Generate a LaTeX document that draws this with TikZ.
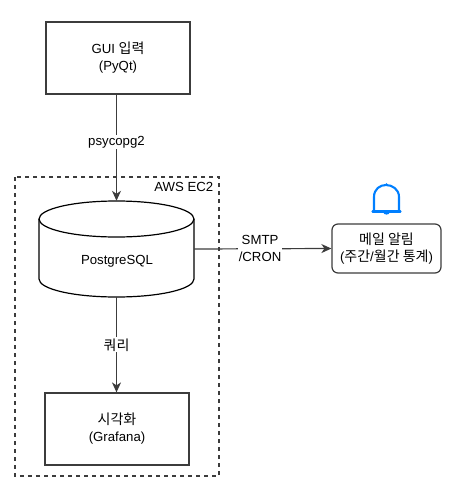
\documentclass[tikz,border=0pt]{standalone}
\usepackage{fontspec}
\setmainfont{Liberation Sans}
\newfontfamily\krfont[Scale=1.06]{Noto Sans CJK KR}
\usetikzlibrary{arrows.meta}
\definecolor{bellblue}{RGB}{0,127,255}
\definecolor{edge}{RGB}{60,60,60}
\tikzset{
  labelfont/.style={font=\fontsize{13.2}{17}\selectfont},
  box/.style={draw=edge,line width=1.2pt,minimum width=#1,inner sep=0pt,align=center,labelfont},
  conn/.style={draw=edge,line width=1.2pt,-{Stealth[length=10pt,width=9pt,inset=3pt]}},
  lbl/.style={fill=white,inner sep=1pt,align=center,labelfont},
  txt/.style={inner sep=0pt,align=center,labelfont}
}
\begin{document}
\begin{tikzpicture}[x=1pt,y=-1pt]
\useasboundingbox (0,0) rectangle (472,487);
\node[box=144pt,minimum height=72pt] (gui) at (118,58) {GUI {\krfont 입력}\\(PyQt)};
\node[box=144pt,minimum height=72pt] (viz) at (117,429) {{\krfont 시각화}\\(Grafana)};
\draw[edge,line width=1.1pt,dash pattern=on 4pt off 4pt] (15,177) rectangle (219,476);
\node[txt,anchor=east] (aws) at (213.5,187) {AWS EC2};
\node[minimum width=155pt,minimum height=96pt,inner sep=0pt] (db) at (116.5,249) {};
\draw[black,line width=1.2pt] (39,219) .. controls (39,209) and (73,201) .. (116.5,201) .. controls (160,201) and (194,209) .. (194,219) -- (194,279) .. controls (194,289) and (160,297) .. (116.5,297) .. controls (73,297) and (39,289) .. (39,279) -- cycle;
\draw[black,line width=1.2pt] (39,219) .. controls (39,229) and (73,237) .. (116.5,237) .. controls (160,237) and (194,229) .. (194,219);
\node[txt] (pg) at (117,261) {PostgreSQL};
\node[box=109pt,minimum height=49pt,rounded corners=6pt] (mail) at (386.5,248.5) {{\krfont 메일 알림}\\({\krfont 주간}/{\krfont 월간 통계})};
\draw[conn] (gui.south -| db.north) -- node[lbl,pos=0.45] (l1) {psycopg2} (db.north);
\draw[conn] (db.south) -- node[lbl,pos=0.5] (l2) {\krfont 쿼리} (viz.north -| db.south);
\draw[conn] (db.east) -- node[lbl,pos=0.48] (l3) {SMTP\\/CRON} (mail.west);
\draw[bellblue,line width=2.1pt,line cap=round,line join=round] (374,210) -- (374,197) .. controls (374,189) and (380,185) .. (386,185) .. controls (392,185) and (399,189) .. (399,197) -- (399,210);
\draw[bellblue,line width=2.1pt,line cap=round] (372.5,211.5) -- (400.5,211.5);
\fill[bellblue] (383,212) .. controls (384,215.5) and (389,215.5) .. (390,212) -- cycle;
\fill[bellblue] (386.5,184.5) circle (1.4);
\end{tikzpicture}
\end{document}
